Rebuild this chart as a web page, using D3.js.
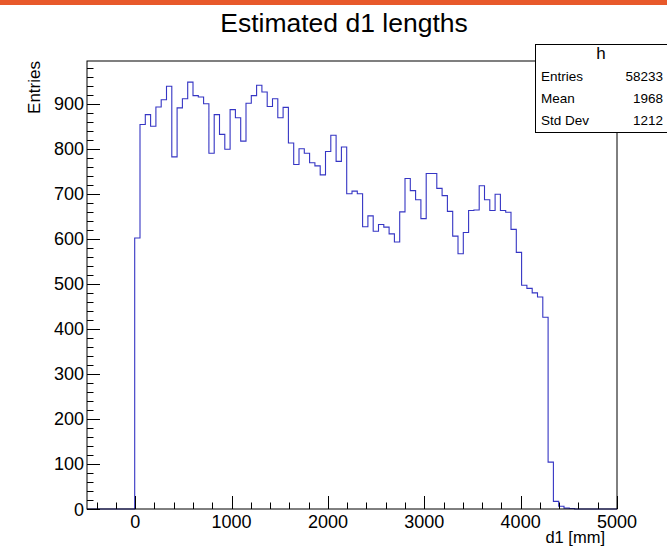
<!DOCTYPE html>
<html>
<head>
<meta charset="utf-8">
<script src="https://cdn.jsdelivr.net/npm/d3@7"></script>
<style>
  html, body { margin: 0; padding: 0; background: #fff; }
  svg { display: block; }
  text { font-family: "Liberation Sans", Arial, Helvetica, sans-serif; fill: #000; }
</style>
</head>
<body>
<svg id="chart" width="667" height="547"></svg>
<script>
// ---- data ----
const title = "Estimated d1 lengths";
const xLabel = "d1 [mm]";
const yLabel = "Entries";
const binLow = -500;
const binHigh = 5000;
const counts = [
  0, 0, 0, 0, 0, 0, 0, 0, 0, 602,
  854, 876, 850, 893, 909, 939, 782, 891, 911, 948,
  918, 915, 900, 790, 876, 832, 799, 887, 869, 817,
  901, 918, 941, 926, 894, 911, 869, 892, 813, 765,
  800, 790, 769, 762, 742, 794, 830, 772, 804, 700,
  706, 700, 627, 651, 617, 632, 626, 611, 593, 660,
  734, 707, 687, 645, 745, 745, 712, 696, 661, 606,
  567, 614, 663, 664, 718, 687, 663, 699, 663, 659,
  621, 570, 497, 490, 480, 471, 426, 104, 17, 6,
  2, 1, 0, 0, 0, 0, 0, 0, 0, 0
];
const xTicks = [0, 1000, 2000, 3000, 4000, 5000];
const yTicks = [0, 100, 200, 300, 400, 500, 600, 700, 800, 900];
const statsName = "h";
const statsLabels = ["Entries", "Mean", "Std Dev"];
const statsValues = ["58233", "1968", "1212"];

// ---- layout ----
const svg = d3.select("#chart");
const L = 87, R = 617, T = 61, B = 509;
const x = d3.scaleLinear().domain([binLow, binHigh]).range([L, R]);
const y = d3.scaleLinear().domain([0, 995]).range([B, T]);
const nb = counts.length;
const bw = (binHigh - binLow) / nb;

// orange top bar
svg.append("rect").attr("x", 0).attr("y", 0).attr("width", 667).attr("height", 5).attr("fill", "#e8592b");

// title
svg.append("text").attr("x", 344).attr("y", 32).attr("text-anchor", "middle")
  .attr("font-size", 26.5).text(title);

// histogram outline
const pts = [];
pts.push([x(binLow), y(0)]);
counts.forEach((c, i) => {
  pts.push([x(binLow + i * bw), y(c)]);
  pts.push([x(binLow + (i + 1) * bw), y(c)]);
});
pts.push([x(binHigh), y(0)]);
svg.append("path").attr("d", d3.line()(pts)).attr("fill", "none")
  .attr("stroke", "#3535c4").attr("stroke-width", 1.1);

// frame
svg.append("rect").attr("x", L).attr("y", T).attr("width", R - L).attr("height", B - T)
  .attr("fill", "none").attr("stroke", "#000").attr("stroke-width", 1);

// y axis ticks (inside)
const yMinor = d3.range(0, 995, 20);
svg.append("g").selectAll("line").data(yMinor).join("line")
  .attr("x1", L).attr("x2", d => L + (d % 100 === 0 ? 13 : 6.5))
  .attr("y1", d => Math.round(y(d)) + 0.5).attr("y2", d => Math.round(y(d)) + 0.5)
  .attr("stroke", "#000").attr("stroke-width", 1);
svg.append("g").selectAll("text").data(yTicks).join("text")
  .attr("x", L - 3).attr("y", d => y(d) + 6.5).attr("text-anchor", "end")
  .attr("font-size", 18).text(d => d);

// x axis ticks (inside)
const xMinor = d3.range(-400, 5001, 200);
svg.append("g").selectAll("line").data(xMinor).join("line")
  .attr("x1", d => Math.round(x(d)) + 0.5).attr("x2", d => Math.round(x(d)) + 0.5)
  .attr("y1", B).attr("y2", d => B - (d % 1000 === 0 ? 13 : 6.5))
  .attr("stroke", "#000").attr("stroke-width", 1);
svg.append("g").selectAll("text").data(xTicks).join("text")
  .attr("x", d => x(d)).attr("y", 528).attr("text-anchor", "middle")
  .attr("font-size", 18).text(d => d);

// axis titles
svg.append("text").attr("x", 605).attr("y", 543).attr("text-anchor", "end")
  .attr("font-size", 16.5).text(xLabel);
svg.append("text").attr("transform", `translate(40,${T}) rotate(-90)`)
  .attr("text-anchor", "end").attr("font-size", 17).text(yLabel);

// stats box
const sx = 535, sy = 44, sh = 88;
svg.append("rect").attr("x", sx + 0.5).attr("y", sy + 0.5).attr("width", 140).attr("height", sh)
  .attr("fill", "#fff").attr("stroke", "#000").attr("stroke-width", 1);
svg.append("text").attr("x", 601).attr("y", 59).attr("text-anchor", "middle")
  .attr("font-size", 17).text(statsName);
statsLabels.forEach((lab, i) => {
  const yy = 81 + i * 22;
  svg.append("text").attr("x", 541).attr("y", yy).attr("font-size", 13.5).text(lab);
  svg.append("text").attr("x", 663).attr("y", yy).attr("text-anchor", "end").attr("font-size", 13.5).text(statsValues[i]);
});
</script>
</body>
</html>
